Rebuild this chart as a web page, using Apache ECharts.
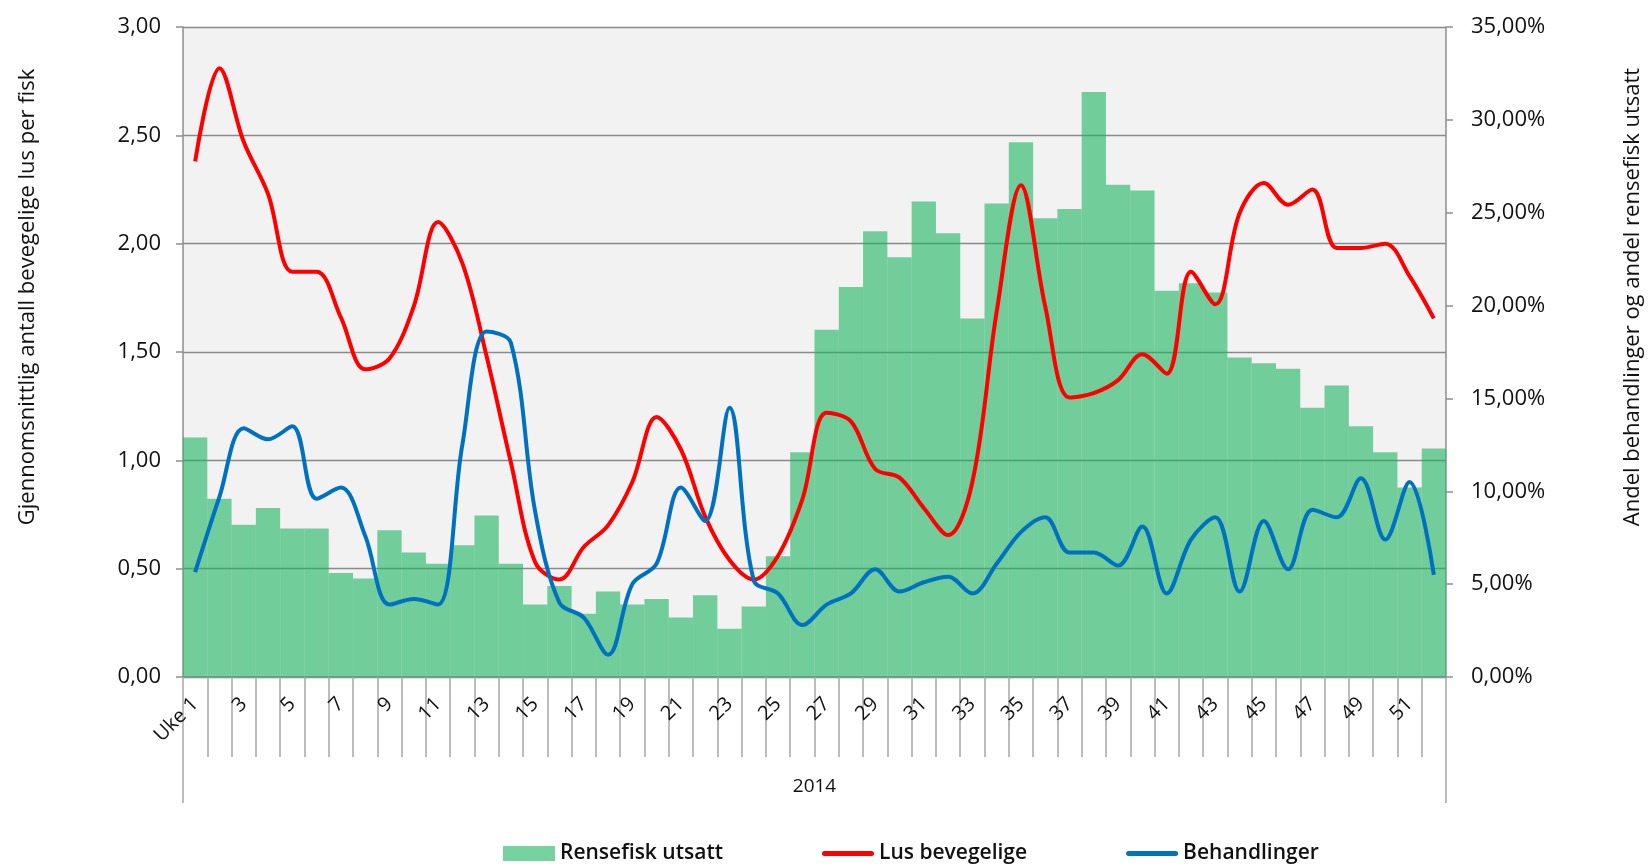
<!DOCTYPE html>
<html>
<head>
<meta charset="utf-8">
<title>Lus og rensefisk 2014</title>
<script src="https://cdn.jsdelivr.net/npm/echarts@6/dist/echarts.min.js"></script>
<style>
  html, body { margin: 0; padding: 0; background: #fff; }
  #chart { width: 1651px; height: 866px; }
</style>
</head>
<body>
<div id="chart"></div>
<script>
// uker 1-52 i 2014
var weeks = [];
for (var i = 1; i <= 52; i++) weeks.push(i === 1 ? 'Uke 1' : String(i));

// andel rensefisk utsatt (%)
var rensefisk = [12.9, 9.6, 8.2, 9.1, 8.0, 8.0, 5.6, 5.3, 7.9, 6.7,
  6.1, 7.1, 8.7, 6.1, 3.9, 4.9, 3.4, 4.6, 3.9, 4.2,
  3.2, 4.4, 2.6, 3.8, 6.5, 12.1, 18.7, 21.0, 24.0, 22.6,
  25.6, 23.9, 19.3, 25.5, 28.8, 24.7, 25.2, 31.5, 26.5, 26.2,
  20.8, 21.2, 20.7, 17.2, 16.9, 16.6, 14.5, 15.7, 13.5, 12.1,
  10.2, 12.3];

// gjennomsnittlig antall bevegelige lus per fisk
var lus = [2.38, 2.81, 2.47, 2.23, 1.87, 1.87, 1.66, 1.42, 1.47, 1.71,
  2.10, 1.91, 1.48, 0.99, 0.53, 0.45, 0.60, 0.70, 0.90, 1.20,
  1.05, 0.74, 0.54, 0.45, 0.56, 0.82, 1.22, 1.18, 0.96, 0.92,
  0.78, 0.655, 0.90, 1.685, 2.27, 1.71, 1.29, 1.31, 1.37, 1.49,
  1.40, 1.87, 1.72, 2.14, 2.28, 2.18, 2.25, 1.98, 1.98, 2.00,
  1.85, 1.655];

// andel behandlinger (%)
var behandlinger = [5.65, 9.7, 13.4, 12.8, 13.5, 9.6, 10.2, 7.6, 3.9, 4.2,
  3.9, 12.5, 18.6, 18.0, 8.9, 4.0, 3.2, 1.2, 5.0, 6.1,
  10.2, 8.4, 14.5, 5.2, 4.5, 2.8, 3.9, 4.5, 5.8, 4.6,
  5.1, 5.4, 4.5, 6.1, 7.8, 8.6, 6.7, 6.7, 6.0, 8.1,
  4.5, 7.4, 8.6, 4.6, 8.4, 5.8, 9.0, 8.6, 10.7, 7.4,
  10.5, 5.5];

var yearLabel = ['2014'];

var font = '"Open Sans", "Noto Sans", sans-serif';
var axisGray = '#8e8e8e';
var tickGray = '#a6a6a6';
var linePath = 'path://M2.5,0H49.5A2.5,2.5,0,0,1,49.5,5H2.5A2.5,2.5,0,0,1,2.5,0Z';

var chart = echarts.init(document.getElementById('chart'));

var option = {
  animation: false,
  textStyle: { fontFamily: font },
  grid: {
    left: 183, right: 205, top: 27, bottom: 189,
    show: true, backgroundColor: '#f2f2f2', borderWidth: 0
  },
  legend: {
    left: 498, top: 838,
    itemWidth: 52, itemHeight: 15, itemGap: 99,
    textStyle: { fontFamily: font, fontSize: 21, fontWeight: 600, color: '#111' },
    data: [
      { name: 'Rensefisk utsatt', icon: 'rect' },
      { name: 'Lus bevegelige', icon: linePath },
      { name: 'Behandlinger', icon: linePath }
    ]
  },
  graphic: [
    { // tittel venstre akse
      type: 'text', x: 28, y: 297, rotation: Math.PI / 2,
      style: {
        text: 'Gjennomsnittlig antall bevegelige lus per fisk',
        font: '22px ' + font, fill: '#111', align: 'center', verticalAlign: 'middle'
      }
    },
    { // tittel høyre akse
      type: 'text', x: 1633, y: 297, rotation: Math.PI / 2,
      style: {
        text: 'Andel behandlinger og andel rensefisk utsatt',
        font: '22px ' + font, fill: '#111', align: 'center', verticalAlign: 'middle'
      }
    }
  ],
  xAxis: [
    {
      type: 'category', data: weeks, position: 'bottom',
      boundaryGap: true,
      axisLine: { show: true, lineStyle: { color: axisGray, width: 1.5 } },
      axisTick: { show: true, interval: 0, alignWithLabel: false, length: 80, lineStyle: { color: tickGray, width: 1.5 } },
      axisLabel: { interval: 1, rotate: 45, margin: 24, fontSize: 20, color: '#111', fontFamily: font }
    },
    { // gruppe-akse for årstall
      type: 'category', data: yearLabel, position: 'bottom',
      boundaryGap: true,
      axisLine: { show: false },
      axisTick: { show: true, interval: 0, alignWithLabel: false, length: 126, lineStyle: { color: tickGray, width: 1.5 } },
      axisLabel: { margin: 100, fontSize: 19, color: '#111', fontFamily: font }
    }
  ],
  yAxis: [
    {
      type: 'value', position: 'left', min: 0, max: 3, interval: 0.5,
      axisLine: { show: true, lineStyle: { color: axisGray, width: 1.5 } },
      axisTick: { show: true, length: 7, lineStyle: { color: axisGray, width: 1.5 } },
      splitLine: { lineStyle: { color: '#8a8a8a', width: 1.4 } },
      axisLabel: {
        margin: 22, fontSize: 22, color: '#111', fontFamily: font,
        formatter: function (v) { return v.toFixed(2).replace('.', ','); }
      }
    },
    {
      type: 'value', position: 'right', min: 0, max: 35, interval: 5,
      axisLine: { show: true, lineStyle: { color: axisGray, width: 1.5 } },
      axisTick: { show: true, length: 7, lineStyle: { color: axisGray, width: 1.5 } },
      splitLine: { show: false },
      axisLabel: {
        margin: 25, fontSize: 22, color: '#111', fontFamily: font,
        formatter: function (v) { return v.toFixed(2).replace('.', ',') + '%'; }
      }
    }
  ],
  series: [
    {
      name: 'Rensefisk utsatt', type: 'bar', xAxisIndex: 0, yAxisIndex: 1,
      data: rensefisk, barCategoryGap: '0%',
      itemStyle: { color: 'rgba(27,180,94,0.6)' }
    },
    {
      name: 'Lus bevegelige', type: 'line', xAxisIndex: 0, yAxisIndex: 0,
      data: lus, smooth: 0.35, symbol: 'none',
      itemStyle: { color: '#ff0000' },
      lineStyle: { color: '#ff0000', width: 4 }
    },
    {
      name: 'Behandlinger', type: 'line', xAxisIndex: 0, yAxisIndex: 1,
      data: behandlinger, smooth: 0.35, symbol: 'none',
      itemStyle: { color: '#0070c0' },
      lineStyle: { color: '#0070c0', width: 4 }
    }
  ]
};

chart.setOption(option);
</script>
</body>
</html>
